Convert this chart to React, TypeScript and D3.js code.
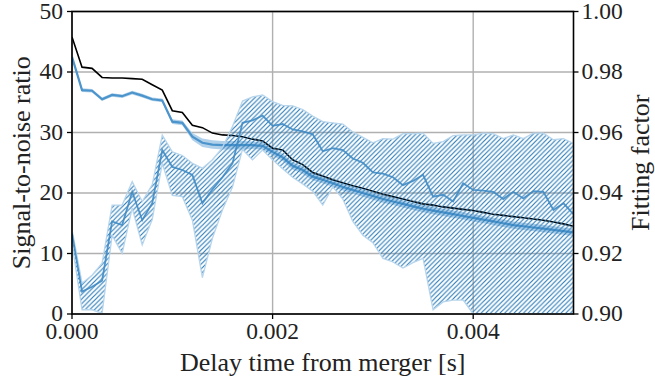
import React from "react";
import * as d3 from "d3";

// Delay time from merger [s]
const delay = [
  0.0, 0.0001, 0.0002, 0.0003, 0.0004, 0.0005, 0.0006, 0.0007, 0.0008, 0.0009,
  0.001, 0.0011, 0.0012, 0.0013, 0.0014, 0.0015, 0.0016, 0.0017, 0.0018, 0.0019,
  0.002, 0.0021, 0.0022, 0.0023, 0.0024, 0.0025, 0.0026, 0.0027, 0.0028, 0.0029,
  0.003, 0.0031, 0.0032, 0.0033, 0.0034, 0.0035, 0.0036, 0.0037, 0.0038, 0.0039,
  0.004, 0.0041, 0.0042, 0.0043, 0.0044, 0.0045, 0.0046, 0.0047, 0.0048, 0.0049,
  0.005,
];

// Optimal SNR (black)
const snrOptimal = [
  45.8, 40.8, 40.6, 39.1, 39.0, 39.0, 38.9, 38.8, 37.9, 37.0,
  33.6, 33.3, 31.2, 30.8, 29.9, 29.6, 29.5, 29.3, 28.9, 28.6,
  27.4, 27.1, 25.5, 24.7, 23.4, 22.8, 22.2, 21.7, 21.2, 20.8,
  20.3, 19.8, 19.4, 19.0, 18.6, 18.2, 18.0, 17.7, 17.5, 17.3,
  17.1, 16.8, 16.5, 16.3, 16.1, 15.9, 15.7, 15.5, 15.2, 14.9,
  14.5,
];

// Recovered SNR (thick blue) and its spread
const snrRecovered = [
  42.5, 37.0, 36.9, 35.5, 36.2, 36.0, 36.6, 36.1, 35.5, 35.3,
  31.8, 31.6, 29.3, 28.3, 28.0, 27.9, 27.9, 27.9, 27.9, 27.8,
  26.8, 25.9, 24.5, 23.8, 22.7, 22.2, 21.6, 21.0, 20.5, 20.0,
  19.5, 19.0, 18.6, 18.2, 17.8, 17.4, 17.1, 16.8, 16.5, 16.2,
  15.9, 15.6, 15.3, 15.0, 14.7, 14.5, 14.3, 14.1, 13.9, 13.7,
  13.5,
];
const snrSpread = [
  0.3, 0.3, 0.3, 0.3, 0.3, 0.3, 0.3, 0.3, 0.3, 0.3,
  0.4, 0.4, 0.6, 0.7, 0.7, 0.7, 0.7, 0.7, 0.6, 0.6,
  0.6, 0.6, 0.6, 0.6, 0.6, 0.6, 0.6, 0.6, 0.6, 0.6,
  0.6, 0.6, 0.6, 0.6, 0.6, 0.6, 0.6, 0.6, 0.6, 0.6,
  0.6, 0.6, 0.6, 0.6, 0.6, 0.6, 0.6, 0.6, 0.6, 0.6,
  0.6,
];

// Fitting factor (right axis) median and range
const ffMedian = [
  0.9266, 0.9074, 0.909, 0.911, 0.9306, 0.9294, 0.9404, 0.931, 0.9366, 0.9542,
  0.9486, 0.9476, 0.946, 0.9366, 0.9412, 0.9452, 0.9498, 0.9632, 0.964, 0.9656,
  0.9622, 0.9628, 0.961, 0.9604, 0.9594, 0.9538, 0.9548, 0.9542, 0.9514, 0.95,
  0.9468, 0.9464, 0.9452, 0.9426, 0.944, 0.946, 0.9388, 0.9394, 0.9372, 0.9432,
  0.941, 0.9408, 0.9404, 0.938, 0.9404, 0.9382, 0.9406, 0.9404, 0.9344, 0.9366,
  0.933,
];
const ffUpper = [
  0.928, 0.9102, 0.9128, 0.9168, 0.936, 0.936, 0.9438, 0.9372, 0.9428, 0.9592,
  0.9536, 0.9524, 0.9498, 0.9482, 0.951, 0.955, 0.962, 0.9704, 0.9718, 0.9724,
  0.9702, 0.969, 0.9688, 0.9676, 0.9654, 0.9636, 0.9632, 0.9628, 0.9602, 0.9584,
  0.9566, 0.958, 0.9578, 0.9596, 0.9596, 0.9598, 0.9564, 0.957, 0.959, 0.9592,
  0.9592, 0.9598, 0.9596, 0.958, 0.9592, 0.958, 0.9598, 0.9598, 0.9576, 0.958,
  0.9564,
];
const ffLower = [
  0.9234, 0.9014, 0.9014, 0.9002, 0.926, 0.92, 0.935, 0.9228, 0.9312, 0.9498,
  0.9392, 0.9388, 0.931, 0.912, 0.925, 0.9344, 0.942, 0.9544, 0.951, 0.9542,
  0.951, 0.948, 0.9452, 0.943, 0.9406, 0.936, 0.942, 0.938, 0.9306, 0.926,
  0.9236, 0.9184, 0.9172, 0.9152, 0.917, 0.9184, 0.9014, 0.904, 0.9046, 0.9046,
  0.9, 0.9, 0.9, 0.9, 0.9, 0.9, 0.9, 0.9, 0.9, 0.9,
  0.9,
];

const xTicks = [0, 0.002, 0.004];
const yLeftTicks = [0, 10, 20, 30, 40, 50];
const yRightTicks = [0.9, 0.92, 0.94, 0.96, 0.98, 1.0];

const W = 655;
const H = 385;
const M = { left: 72, right: 81.5, top: 11.5, bottom: 71 };
const FONT = "Liberation Serif, DejaVu Serif, serif";

export default function App() {
  const x = d3.scaleLinear().domain([0, 0.005]).range([M.left, W - M.right]);
  const yL = d3.scaleLinear().domain([0, 50]).range([H - M.bottom, M.top]);
  const yR = d3.scaleLinear().domain([0.9, 1.0]).range([H - M.bottom, M.top]);

  const idx = delay.map((_, i) => i);

  const lineBlack = d3.line<number>().x((i) => x(delay[i])).y((i) => yL(snrOptimal[i]))(idx) || "";
  const lineRec = d3.line<number>().x((i) => x(delay[i])).y((i) => yL(snrRecovered[i]))(idx) || "";
  const areaRec =
    d3
      .area<number>()
      .x((i) => x(delay[i]))
      .y0((i) => yL(snrRecovered[i] - snrSpread[i]))
      .y1((i) => yL(snrRecovered[i] + snrSpread[i]))(idx) || "";
  const areaFF =
    d3
      .area<number>()
      .x((i) => x(delay[i]))
      .y0((i) => yR(ffLower[i]))
      .y1((i) => yR(ffUpper[i]))(idx) || "";
  const lineFF = d3.line<number>().x((i) => x(delay[i])).y((i) => yR(ffMedian[i]))(idx) || "";

  const x0 = M.left;
  const x1 = W - M.right;
  const y0 = H - M.bottom;
  const y1 = M.top;
  const hs = 4.7;
  const tStyle = { fontFamily: FONT };

  return (
    <svg width={W} height={H} style={{ position: "absolute", left: 0, top: 0, background: "#fff" }}>
      <defs>
        <clipPath id="plotclip">
          <rect x={x0} y={y1} width={x1 - x0} height={y0 - y1} />
        </clipPath>
        <pattern id="hatch" patternUnits="userSpaceOnUse" width={hs} height={hs}>
          <path
            d={`M${-hs / 2},${hs / 2} L${hs / 2},${-hs / 2} M0,${hs} L${hs},0 M${hs / 2},${hs * 1.5} L${hs * 1.5},${hs / 2}`}
            stroke="#2a7bb8"
            strokeWidth={1.15}
          />
        </pattern>
      </defs>

      {/* grid */}
      <g stroke="#b0b0b0" strokeWidth={1.4}>
        {xTicks.map((t) => (
          <line key={"gx" + t} x1={x(t)} x2={x(t)} y1={y1} y2={y0} />
        ))}
        {yLeftTicks.map((t) => (
          <line key={"gy" + t} x1={x0} x2={x1} y1={yL(t)} y2={yL(t)} />
        ))}
      </g>

      <g clipPath="url(#plotclip)">
        <path d={areaRec} fill="#a9cce8" stroke="none" opacity={0.9} />
        <path d={lineRec} fill="none" stroke="#4c94cc" strokeWidth={2.2} />
        <path d={lineBlack} fill="none" stroke="#000" strokeWidth={1.6} />

        <path d={areaFF} fill="url(#hatch)" stroke="#b7d5ec" strokeWidth={1.3} />
        <path d={lineFF} fill="none" stroke="#3f8bc4" strokeWidth={1.8} opacity={0.9} />
      </g>

      {/* spines */}
      <rect x={x0} y={y1} width={x1 - x0} height={y0 - y1} fill="none" stroke="#000" strokeWidth={1.6} />

      <g fontSize={23.5} fill="#222">
        {xTicks.map((t) => (
          <g key={"xt" + t}>
            <line x1={x(t)} x2={x(t)} y1={y0} y2={y0 + 5} stroke="#000" strokeWidth={1.3} />
            <text x={x(t)} y={y0 + 25} textAnchor="middle" style={tStyle}>
              {d3.format(".3f")(t)}
            </text>
          </g>
        ))}
        {yLeftTicks.map((t) => (
          <g key={"yl" + t}>
            <line x1={x0 - 5} x2={x0} y1={yL(t)} y2={yL(t)} stroke="#000" strokeWidth={1.3} />
            <text x={x0 - 9} y={yL(t) + 7} textAnchor="end" style={tStyle}>
              {t}
            </text>
          </g>
        ))}
        {yRightTicks.map((t) => (
          <g key={"yr" + t}>
            <line x1={x1} x2={x1 + 5} y1={yR(t)} y2={yR(t)} stroke="#000" strokeWidth={1.3} />
            <text x={x1 + 8} y={yR(t) + 7} textAnchor="start" style={tStyle}>
              {d3.format(".2f")(t)}
            </text>
          </g>
        ))}
      </g>

      <g fontSize={26} fill="#222">
        <text x={(x0 + x1) / 2} y={H - 14} textAnchor="middle" style={tStyle}>
          Delay time from merger [s]
        </text>
        <text transform={`translate(30, ${(y0 + y1) / 2}) rotate(-90)`} textAnchor="middle" style={tStyle}>
          Signal-to-noise ratio
        </text>
        <text transform={`translate(649, ${(y0 + y1) / 2}) rotate(-90)`} textAnchor="middle" style={tStyle}>
          Fitting factor
        </text>
      </g>
    </svg>
  );
}
